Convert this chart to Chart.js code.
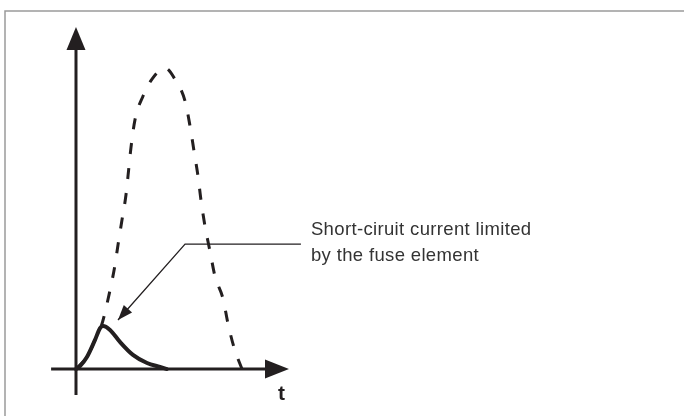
<!DOCTYPE html>
<html>
<head>
<meta charset="utf-8">
<script src="https://cdn.jsdelivr.net/npm/chart.js@4.4.1/dist/chart.umd.min.js"></script>
<style>
  html, body { margin: 0; padding: 0; background: #ffffff; }
  #wrap { width: 684px; height: 416px; position: relative; }
</style>
</head>
<body>
<div id="wrap"><canvas id="c" width="684" height="416"></canvas></div>
<script>
// time in ms, current in per-unit of the prospective peak
const prospectiveT = [0, 0.66, 1.14, 1.51, 2.05, 2.35, 2.53, 2.77, 3.01, 3.19, 3.31, 3.55, 4.04, 4.58, 5.36, 5.96, 6.57, 6.87, 7.11, 7.35, 7.53, 7.77, 8.07, 8.37, 8.86, 9.16, 9.55, 10.0];
const prospectiveI = [0, 0.04, 0.096, 0.14, 0.262, 0.346, 0.412, 0.495, 0.578, 0.672, 0.735, 0.827, 0.907, 0.963, 1.0, 0.963, 0.89, 0.807, 0.724, 0.641, 0.561, 0.475, 0.392, 0.309, 0.233, 0.15, 0.066, 0];
const limitedT = [0, 0.24, 0.66, 1.14, 1.45, 1.63, 2.05, 2.65, 3.43, 4.28, 5.06, 5.48];
const limitedI = [0, 0.01, 0.04, 0.096, 0.136, 0.143, 0.13, 0.09, 0.047, 0.02, 0.007, 0];
const leaderT = [2.53, 6.57, 13.55];
const leaderI = [0.163, 0.415, 0.415];
const labelLines = ["Short-ciruit current limited", "by the fuse element"];
const axisLabelX = "t";

const INK = '#231f20';
const toXY = (ts, is) => ts.map((t, k) => ({ x: t, y: is[k] }));

const drawings = {
  id: 'drawings',
  beforeDraw(chart) {
    const ctx = chart.ctx;
    ctx.save();
    ctx.strokeStyle = '#9a9a9a';
    ctx.lineWidth = 1.5;
    ctx.beginPath();
    ctx.moveTo(5, 416);
    ctx.lineTo(5, 11);
    ctx.lineTo(684, 11);
    ctx.stroke();
    ctx.restore();
  },
  beforeDatasetsDraw(chart) {
    const ctx = chart.ctx, xs = chart.scales.x, ys = chart.scales.y;
    const ox = xs.getPixelForValue(0), oy = ys.getPixelForValue(0);
    ctx.save();
    ctx.strokeStyle = INK;
    ctx.fillStyle = INK;
    ctx.lineWidth = 3;
    // y axis
    const yTop = ys.getPixelForValue(1.136), yBot = ys.getPixelForValue(-0.086);
    ctx.beginPath(); ctx.moveTo(ox, yBot); ctx.lineTo(ox, yTop + 20); ctx.stroke();
    ctx.beginPath(); ctx.moveTo(ox, yTop); ctx.lineTo(ox - 9.5, yTop + 23); ctx.lineTo(ox + 9.5, yTop + 23); ctx.closePath(); ctx.fill();
    // x axis
    const xL = xs.getPixelForValue(-1.5), xR = xs.getPixelForValue(12.83);
    ctx.beginPath(); ctx.moveTo(xL, oy); ctx.lineTo(xR - 20, oy); ctx.stroke();
    ctx.beginPath(); ctx.moveTo(xR, oy); ctx.lineTo(xR - 24, oy - 9.5); ctx.lineTo(xR - 24, oy + 9.5); ctx.closePath(); ctx.fill();
    // axis label
    ctx.font = 'bold 21px "Liberation Sans", Arial, sans-serif';
    ctx.textAlign = 'left';
    ctx.textBaseline = 'alphabetic';
    ctx.fillText(axisLabelX, xR - 11, oy + 31);
    ctx.restore();
  },
  afterDatasetsDraw(chart) {
    const ctx = chart.ctx, xs = chart.scales.x, ys = chart.scales.y;
    ctx.save();
    // arrow head on leader
    const tx = xs.getPixelForValue(leaderT[0]), ty = ys.getPixelForValue(leaderI[0]);
    const bx = xs.getPixelForValue(leaderT[1]), by = ys.getPixelForValue(leaderI[1]);
    const ang = Math.atan2(by - ty, bx - tx);
    const L = 15, W = 5.5;
    const cx = tx + L * Math.cos(ang), cy = ty + L * Math.sin(ang);
    ctx.fillStyle = INK;
    ctx.beginPath();
    ctx.moveTo(tx, ty);
    ctx.lineTo(cx - W * Math.sin(ang), cy + W * Math.cos(ang));
    ctx.lineTo(cx + W * Math.sin(ang), cy - W * Math.cos(ang));
    ctx.closePath();
    ctx.fill();
    // label text
    const lx = xs.getPixelForValue(leaderT[2]) + 10;
    const ly = ys.getPixelForValue(leaderI[2]);
    ctx.fillStyle = '#333333';
    ctx.font = '18.5px "Liberation Sans", Arial, sans-serif';
    ctx.letterSpacing = '0.35px';
    ctx.textAlign = 'left';
    ctx.textBaseline = 'alphabetic';
    ctx.fillText(labelLines[0], lx, ly - 9);
    ctx.fillText(labelLines[1], lx, ly + 17);
    ctx.restore();
  }
};

new Chart(document.getElementById('c'), {
  type: 'scatter',
  data: {
    datasets: [
      {
        label: 'Prospective short-circuit current',
        data: toXY(prospectiveT, prospectiveI),
        showLine: true,
        borderColor: INK,
        borderWidth: 3,
        borderDash: [11, 14],
        borderDashOffset: 0,
        pointRadius: 0,
        cubicInterpolationMode: 'monotone',
        fill: false,
        clip: false
      },
      {
        label: 'Limited current',
        data: toXY(limitedT, limitedI),
        showLine: true,
        borderColor: INK,
        borderWidth: 4,
        borderCapStyle: 'round',
        pointRadius: 0,
        cubicInterpolationMode: 'monotone',
        fill: false,
        clip: false
      },
      {
        label: 'Leader',
        data: toXY(leaderT, leaderI),
        showLine: true,
        borderColor: INK,
        borderWidth: 1.3,
        pointRadius: 0,
        tension: 0,
        fill: false,
        clip: false
      }
    ]
  },
  options: {
    responsive: false,
    animation: false,
    layout: { padding: 0 },
    plugins: { legend: { display: false }, tooltip: { enabled: false } },
    scales: {
      x: { type: 'linear', display: false, min: -4.578, max: 36.627 },
      y: { type: 'linear', display: false, min: -0.156, max: 1.226 }
    }
  },
  plugins: [drawings]
});
</script>
</body>
</html>
